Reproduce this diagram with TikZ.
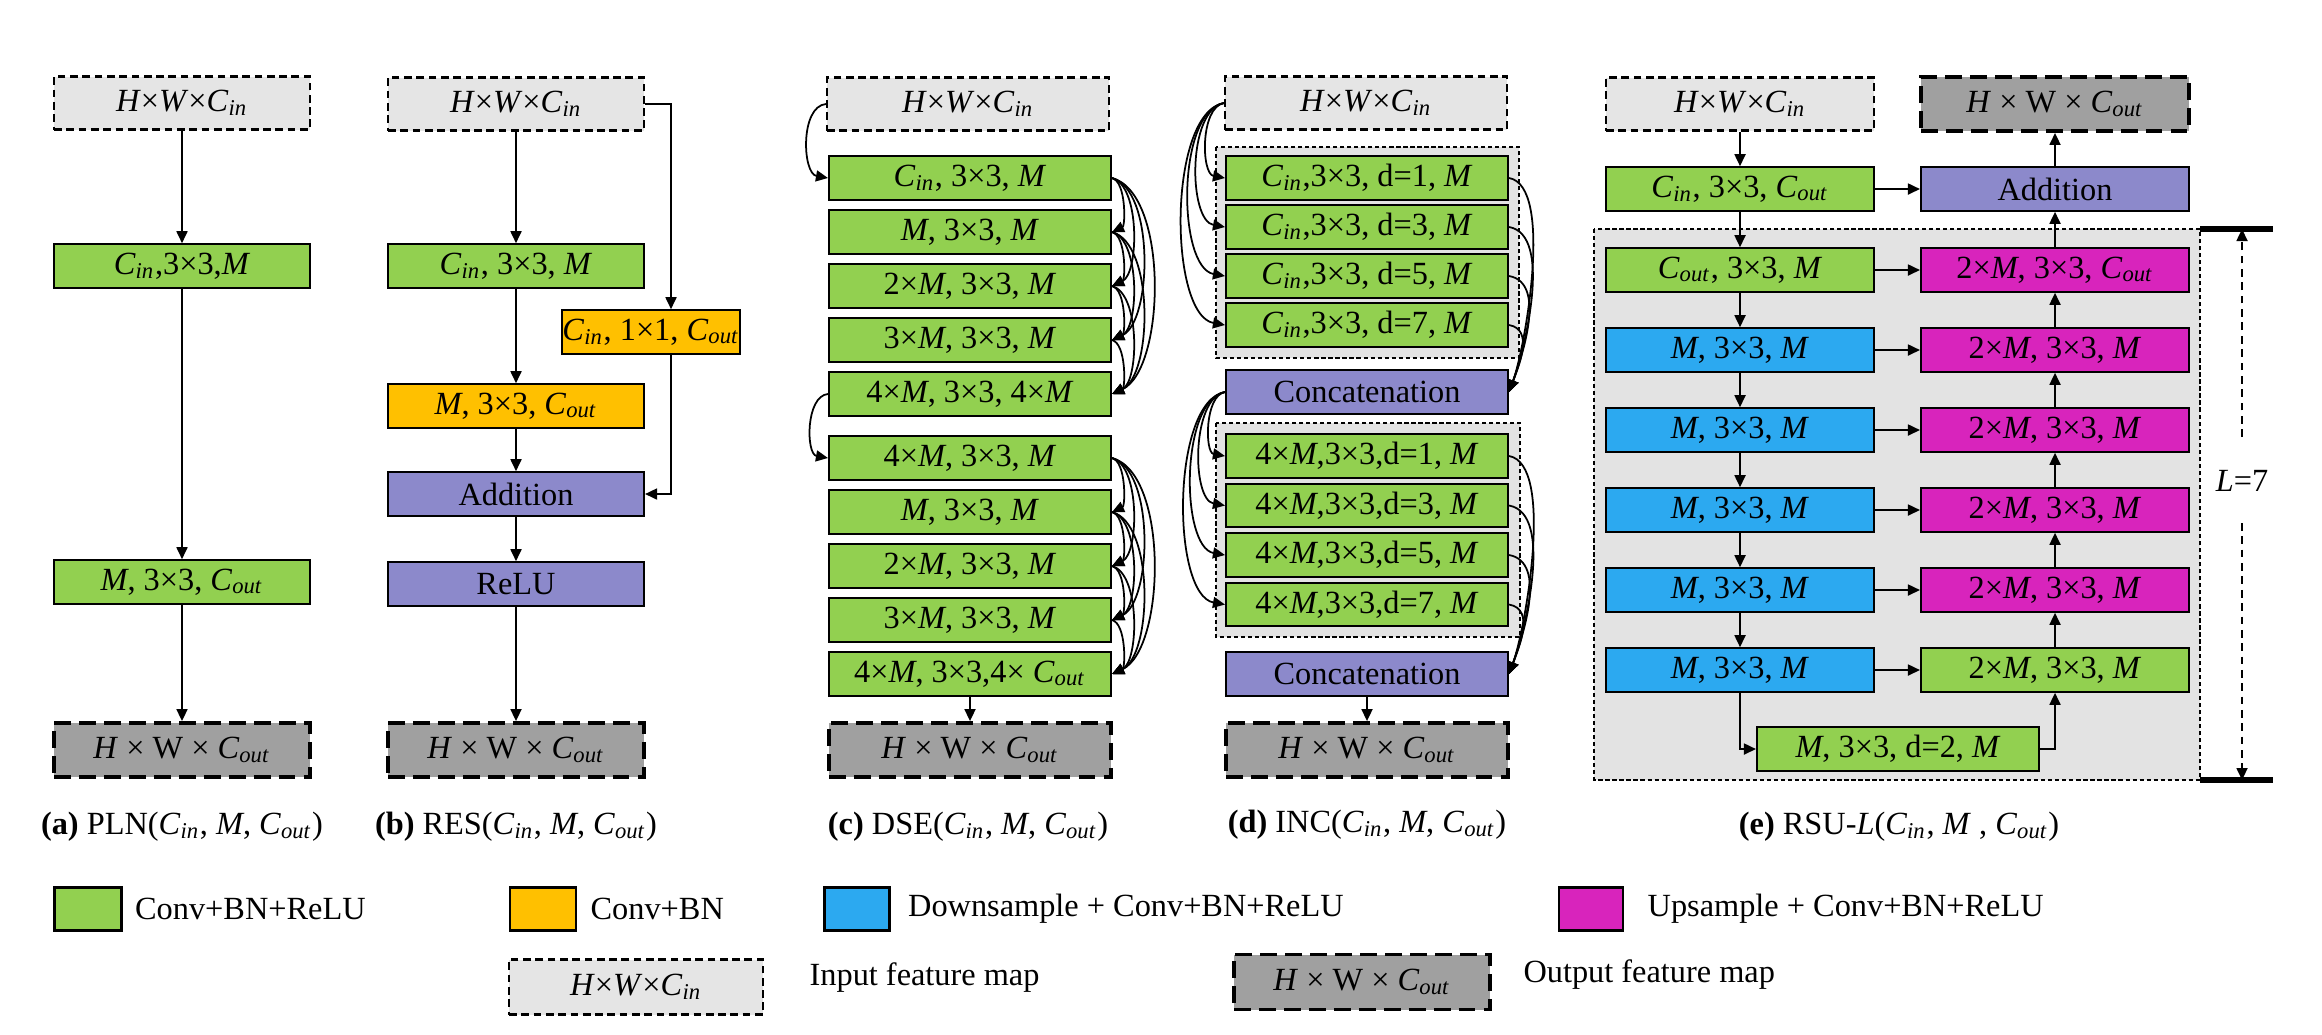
\documentclass[tikz,border=0pt]{standalone}
\usepackage{fontspec}
\setmainfont{Liberation Serif}
\usetikzlibrary{arrows.meta,positioning}

\definecolor{cgreen}{HTML}{92D050}
\definecolor{corange}{HTML}{FFC000}
\definecolor{cblue}{HTML}{2CA9F0}
\definecolor{cpink}{HTML}{D824BC}
\definecolor{cpurple}{HTML}{8C89CB}
\definecolor{cinfill}{HTML}{E5E5E5}
\definecolor{coutfill}{HTML}{A0A0A0}
\definecolor{cgrp}{HTML}{E3E3E3}

\newcommand{\Cin}{\textit{C}\textsubscript{\textit{in}}}
\newcommand{\Cout}{\textit{C}\textsubscript{\textit{out}}}
\newcommand{\vM}{\textit{M}}
\newcommand{\fmin}{\textit{H}×\textit{W}×\Cin}
\newcommand{\fmout}{\textit{H} × W × \Cout}

\begin{document}
\begin{tikzpicture}[x=0.1mm, y=0.1mm, every node/.style={font=\fontsize{9.2}{11}\selectfont}, >={Triangle[length=1.2mm,width=1.1mm]}, line width=0.5pt,
	blk/.style={draw, line width=0.6pt, inner sep=0pt, minimum height=4.35mm, minimum width=25.6mm},
	conv/.style={blk, fill=cgreen}, cbn/.style={blk, fill=corange},
	dwn/.style={blk, fill=cblue}, ups/.style={blk, fill=cpink}, op/.style={blk, fill=cpurple},
	infm/.style={draw, line width=0.6pt, dash pattern=on 2.2pt off 1.3pt, fill=cinfill, inner sep=0pt, minimum height=5.3mm, minimum width=25.6mm},
	outfm/.style={draw, line width=1.1pt, dash pattern=on 4.8pt off 2.3pt, fill=coutfill, inner sep=0pt, minimum height=5.4mm, minimum width=25.6mm},
	grp/.style={draw, line width=0.6pt, dash pattern=on 1.2pt off 0.8pt, fill=cgrp}]
	\useasboundingbox (0,0) rectangle (2322,-1034);

	\draw[grp] (1216,-147) rectangle (1519,-358);
	\draw[grp] (1216,-423) rectangle (1520,-637);
	\draw[grp] (1594,-229) rectangle (2200,-780);

	\node[infm] (a_in) at (182,-103) {\fmin};
	\node[conv] (a_c1) at (182,-266) {\Cin,3×3,\vM};
	\node[conv] (a_c2) at (182,-582) {\vM, 3×3, \Cout};
	\node[outfm] (a_out) at (182,-750) {\fmout};
	\node (a_cap) at (182,-827) {\textbf{(a)} PLN(\Cin, \vM, \Cout)};
	\draw[->] (a_in) -- (a_c1);
	\draw[->] (a_c1) -- (a_c2);
	\draw[->] (a_c2) -- (a_out);

	\node[infm] (b_in) at (516,-104) {\fmin};
	\node[conv] (b_c1) at (516,-266) {\Cin, 3×3, \vM};
	\node[cbn, minimum width=17.2mm] (b_sc) at (651,-332) {\Cin, 1×1, \Cout};
	\node[cbn] (b_c2) at (516,-406) {\vM, 3×3, \Cout};
	\node[op] (b_add) at (516,-494) {Addition};
	\node[op] (b_relu) at (516,-584) {ReLU};
	\node[outfm] (b_out) at (516,-750) {\fmout};
	\node (b_cap) at (516,-827) {\textbf{(b)} RES(\Cin, \vM, \Cout)};
	\draw[->] (b_in) -- (b_c1);
	\draw[->] (b_c1) -- (b_c2);
	\draw[->] (b_c2) -- (b_add);
	\draw[->] (b_add) -- (b_relu);
	\draw[->] (b_relu) -- (b_out);
	\draw[->] (b_in.east) -| ([xshift=2mm]b_sc.north);
	\draw[->] ([xshift=2mm]b_sc.south) |- (b_add.east);

	\node[infm, minimum width=28.2mm] (c_in) at (968,-104) {\fmin};
	\foreach \t [count=\i] in {{\Cin, 3×3, \vM},{\vM, 3×3, \vM},{2×\vM, 3×3, \vM},{3×\vM, 3×3, \vM},{4×\vM, 3×3, 4×\vM}}
		\node[conv, minimum width=28.2mm] (c\i) at (970,{-178-54*(\i-1)}) {\t};
	\foreach \t [count=\i from 6] in {{4×\vM, 3×3, \vM},{\vM, 3×3, \vM},{2×\vM, 3×3, \vM},{3×\vM, 3×3, \vM},{4×\vM, 3×3,4× \Cout}}
		\node[conv, minimum width=28.2mm] (c\i) at (970,{-458-54*(\i-6)}) {\t};
	\node[outfm, minimum width=28.2mm] (c_out) at (970,-750) {\fmout};
	\node (c_cap) at (968,-827) {\textbf{(c)} DSE(\Cin, \vM, \Cout)};
	\draw[->] (c_in.west) to[out=185,in=170,looseness=0.9] (c1.west);
	\draw[->] (c5.west) to[out=185,in=170,looseness=0.9] (c6.west);
	\foreach \i in {1,...,4}{
		\pgfmathtruncatemacro\k{\i+1}
		\foreach \j in {\k,...,5}
			\draw[->] (c\i.east) to[out=-15,in=25,looseness=0.7] (c\j.east);
	}
	\foreach \i in {6,...,9}{
		\pgfmathtruncatemacro\k{\i+1}
		\foreach \j in {\k,...,10}
			\draw[->] (c\i.east) to[out=-15,in=25,looseness=0.7] (c\j.east);
	}
	\draw[->] (c10) -- (c_out);

	\node[infm, minimum width=28.2mm] (d_in) at (1366,-103) {\fmin};
	\foreach \d [count=\i] in {1,3,5,7}
		\node[conv, minimum width=28.2mm] (d\i) at (1367,{-178-49*(\i-1)}) {\Cin,3×3, d=\d, \vM};
	\node[op, minimum width=28.2mm] (cc1) at (1367,-392) {Concatenation};
	\foreach \d [count=\i from 5] in {1,3,5,7}
		\node[conv, minimum width=28.2mm] (d\i) at (1367,{-456-49.5*(\i-5)}) {4×\vM,3×3,d=\d, \vM};
	\node[op, minimum width=28.2mm] (cc2) at (1367,-674) {Concatenation};
	\node[outfm, minimum width=28.2mm] (d_out) at (1367,-750) {\fmout};
	\node (d_cap) at (1367,-825) {\textbf{(d)} INC(\Cin, \vM, \Cout)};
	\foreach \i in {1,...,4}{
		\pgfmathsetmacro\lo{0.88-0.055*\i}
		\pgfmathsetmacro\lr{0.4+0.15*\i}
		\pgfmathtruncatemacro\k{\i+4}
		\draw[->] (d_in.west) to[out=190,in=170,looseness=\lo] (d\i.west);
		\draw[->] (d\i.east) to[out=-10,in=70,looseness=\lr] (cc1.east);
		\draw[->] (cc1.west) to[out=190,in=170,looseness=\lo] (d\k.west);
		\draw[->] (d\k.east) to[out=-10,in=70,looseness=\lr] (cc2.east);
	}
	\draw[->] (cc2) -- (d_out);

	\node[infm, minimum width=26.8mm] (e_in) at (1740,-104) {\fmin};
	\node[outfm, minimum width=26.8mm] (e_out) at (2055,-104) {\fmout};
	\node[conv, minimum width=26.8mm] (e_c0) at (1740,-189) {\Cin, 3×3, \Cout};
	\node[op, minimum width=26.8mm] (e_add) at (2055,-189) {Addition};
	\node[conv, minimum width=26.8mm] (l1) at (1740,-270) {\Cout, 3×3, \vM};
	\node[ups, minimum width=26.8mm] (r1) at (2055,-270) {2×\vM, 3×3, \Cout};
	\foreach \i in {2,...,6}
		\node[dwn, minimum width=26.8mm] (l\i) at (1740,{-270-80*(\i-1)}) {\vM, 3×3, \vM};
	\foreach \i in {2,...,5}
		\node[ups, minimum width=26.8mm] (r\i) at (2055,{-270-80*(\i-1)}) {2×\vM, 3×3, \vM};
	\node[conv, minimum width=26.8mm] (r6) at (2055,-670) {2×\vM, 3×3, \vM};
	\node[conv, minimum width=28.2mm] (e_bt) at (1898,-749) {\vM, 3×3, d=2, \vM};
	\node (e_cap) at (1899,-827) {\textbf{(e)} RSU-\textit{L}(\Cin, \vM\ , \Cout)};
	\draw[->] (e_in) -- (e_c0);
	\draw[->] (e_c0) -- (e_add);
	\draw[->] (e_c0) -- (l1);
	\draw[->] (r1) -- (e_add);
	\draw[->] (e_add) -- (e_out);
	\foreach \i [evaluate=\i as \k using int(\i+1)] in {1,...,5}{
		\draw[->] (l\i) -- (l\k);
		\draw[->] (r\k) -- (r\i);
	}
	\foreach \i in {1,...,6}
		\draw[->] (l\i) -- (r\i);
	\draw[->] (l6.south) |- (e_bt.west);
	\draw[->] (e_bt.east) -| (r6.south);

	\draw[line width=1.6pt] (2200,-229) -- (2273,-229);
	\draw[line width=1.6pt] (2200,-780) -- (2273,-780);
	\coordinate (lt) at (2242,-229);
	\coordinate (lb) at (2242,-780);
	\node (lab) at (2242,-481) {\textit{L}=7};
	\draw[->, dash pattern=on 2.2pt off 1.6pt] ([yshift=4.4mm]lab.center) -- (lt);
	\draw[->, dash pattern=on 2.2pt off 1.6pt] ([yshift=-4.2mm]lab.center) -- (lb);

	\node[conv, minimum width=6.7mm, minimum height=4.3mm] (lg1) at (88,-909) {};
	\node[right=0mm of lg1] (lg1t) {Conv+BN+ReLU};
	\node[cbn, minimum width=6.6mm, minimum height=4.3mm] (lg2) at (543,-909) {};
	\node[right=0.1mm of lg2] (lg2t) {Conv+BN};
	\node[dwn, minimum width=6.5mm, minimum height=4.3mm] (lg3) at (857,-909) {};
	\node[right=0.5mm of lg3] (lg3t) {Downsample + Conv+BN+ReLU};
	\node[ups, minimum width=6.4mm, minimum height=4.3mm] (lg4) at (1591,-909) {};
	\node[right=1.1mm of lg4] (lg4t) {Upsample + Conv+BN+ReLU};
	\node[infm, minimum width=25.4mm, minimum height=5.5mm] (lg5) at (636,-987) {\fmin};
	\node[right=3.3mm of lg5, yshift=0.9mm] (lg5t) {Input feature map};
	\node[outfm, minimum width=25.6mm, minimum height=5.5mm] (lg6) at (1362,-982) {\fmout};
	\node[right=1.9mm of lg6, yshift=0.7mm] (lg6t) {Output feature map};
\end{tikzpicture}
\end{document}
